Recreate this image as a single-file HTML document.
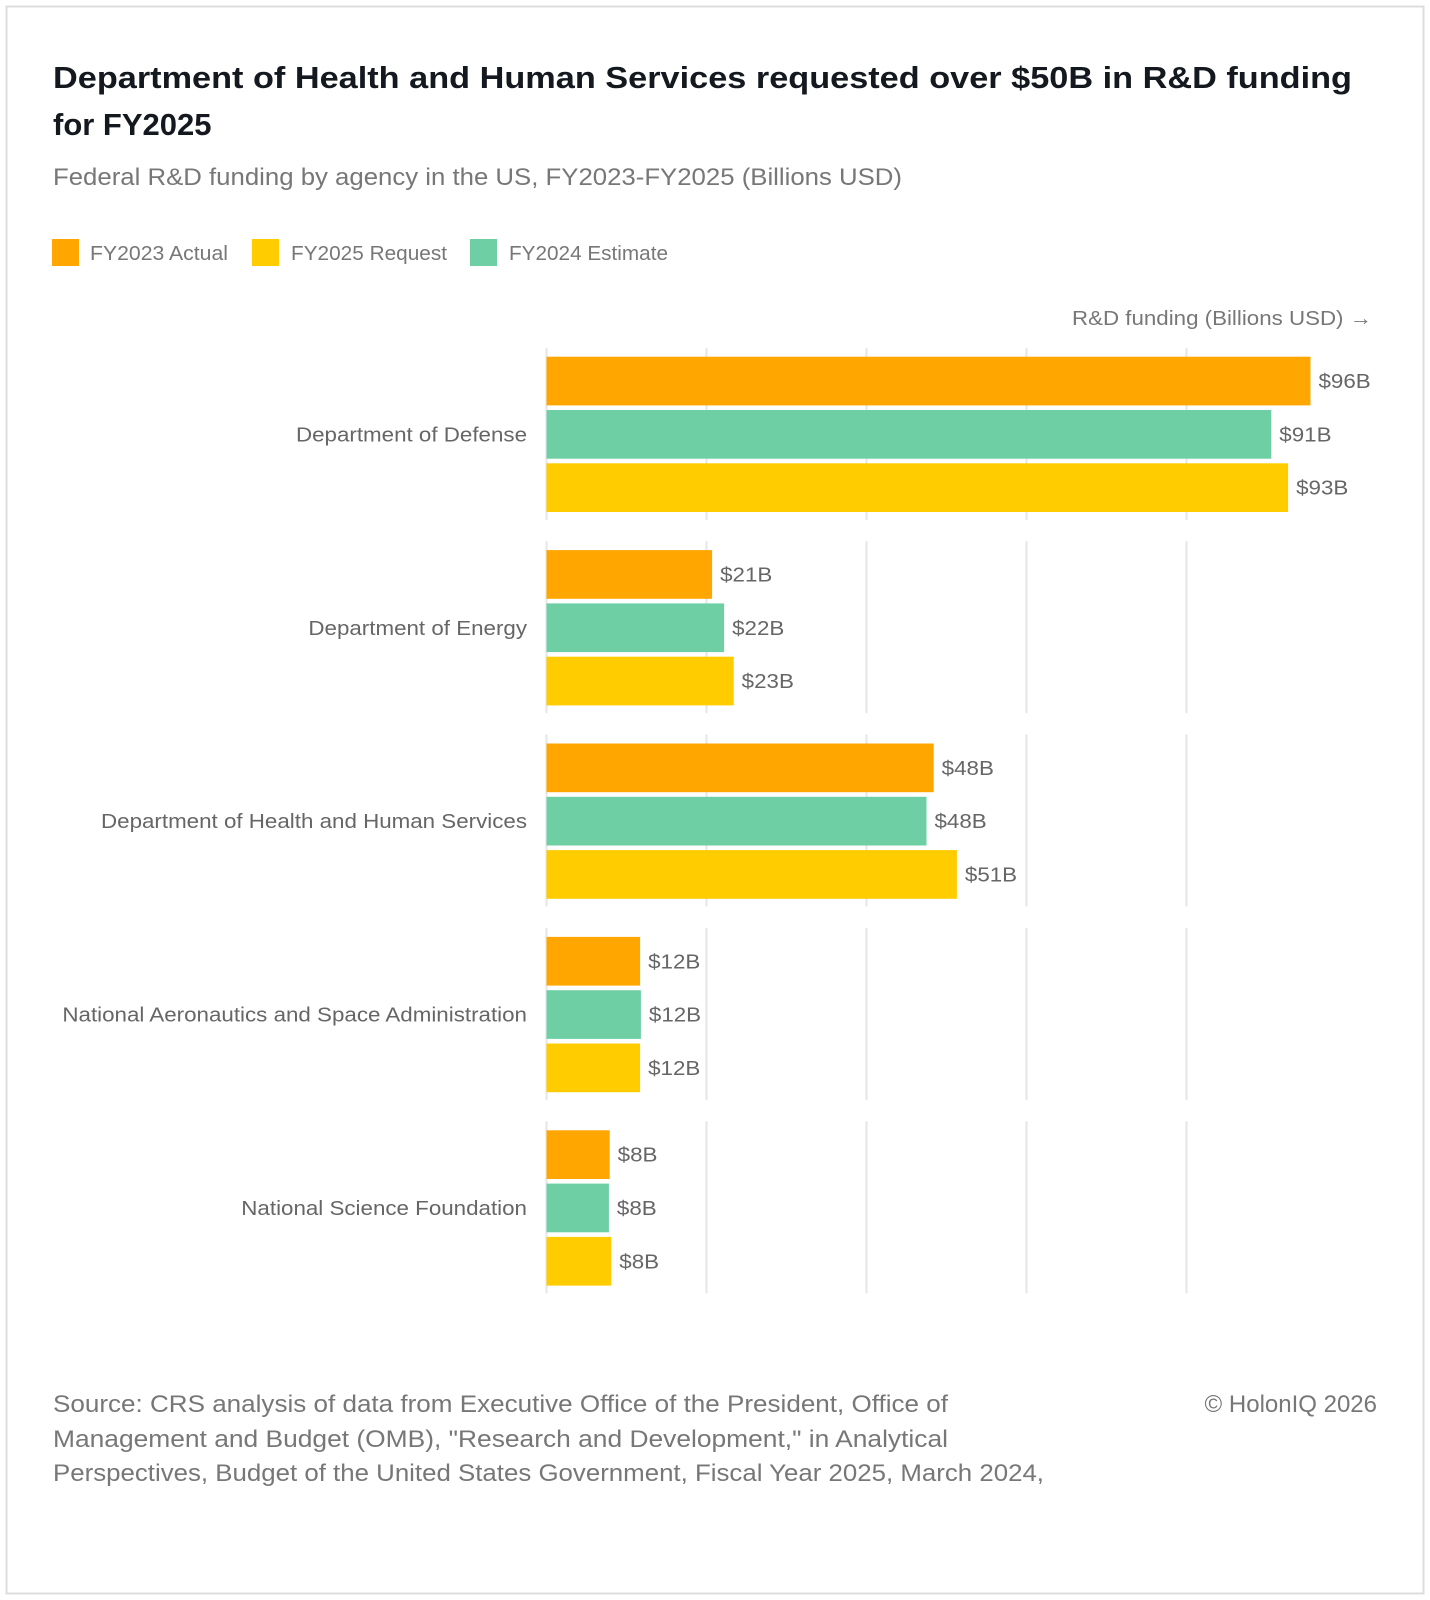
<!DOCTYPE html>
<html><head><meta charset="utf-8"><style>
html,body{margin:0;padding:0;background:#fff}
svg{display:block}
</style></head><body>
<svg id="c" width="1430" height="1600" xmlns="http://www.w3.org/2000/svg">
<rect x="6.5" y="6.5" width="1417" height="1587" fill="#fff" stroke="#ddd" stroke-width="2"/>
<g font-family="'Liberation Sans', sans-serif">
<text x="53" y="88" font-size="31" font-weight="bold" fill="#14181f" textLength="1299" lengthAdjust="spacingAndGlyphs">Department of Health and Human Services requested over $50B in R&amp;D funding</text>
<text x="53" y="135" font-size="31" font-weight="bold" fill="#14181f">for FY2025</text>
<text x="53" y="185" font-size="24" fill="#777" textLength="849" lengthAdjust="spacingAndGlyphs">Federal R&amp;D funding by agency in the US, FY2023-FY2025 (Billions USD)</text>
<g>
<rect x="52" y="239" width="27" height="27" fill="#ffa600"/>
<text x="90" y="260" font-size="20" fill="#777" textLength="138" lengthAdjust="spacingAndGlyphs">FY2023 Actual</text>
<rect x="252" y="239" width="27" height="27" fill="#ffcc00"/>
<text x="291" y="260" font-size="20" fill="#777" textLength="156" lengthAdjust="spacingAndGlyphs">FY2025 Request</text>
<rect x="470" y="239" width="27" height="27" fill="#6ecfa5"/>
<text x="509" y="260" font-size="20" fill="#777" textLength="159" lengthAdjust="spacingAndGlyphs">FY2024 Estimate</text>
</g>
<text x="1372" y="325" font-size="20" fill="#777" text-anchor="end" textLength="300" lengthAdjust="spacingAndGlyphs">R&amp;D funding (Billions USD) →</text>
<g id="plot"></g>
<g font-size="24" fill="#777">
<text x="53" y="1412" textLength="895" lengthAdjust="spacingAndGlyphs">Source: CRS analysis of data from Executive Office of the President, Office of</text>
<text x="53" y="1447" textLength="895" lengthAdjust="spacingAndGlyphs">Management and Budget (OMB), "Research and Development," in Analytical</text>
<text x="53" y="1481" textLength="991" lengthAdjust="spacingAndGlyphs">Perspectives, Budget of the United States Government, Fiscal Year 2025, March 2024,</text>
</g>
<text x="1377" y="1412" font-size="24" fill="#777" text-anchor="end">© HolonIQ 2026</text>
</g>
</svg>
<script>
const categories = ["Department of Defense","Department of Energy","Department of Health and Human Services","National Aeronautics and Space Administration","National Science Foundation"];
const fy2023 = [95.5, 20.7, 48.4, 11.7, 7.9];
const fy2024 = [90.6, 22.2, 47.5, 11.8, 7.8];
const fy2025 = [92.7, 23.4, 51.3, 11.7, 8.1];
const labels2023 = ["$96B","$21B","$48B","$12B","$8B"];
const labels2024 = ["$91B","$22B","$48B","$12B","$8B"];
const labels2025 = ["$93B","$23B","$51B","$12B","$8B"];
const gridTicks = [0, 20, 40, 60, 80];

const NS = "http://www.w3.org/2000/svg";
const plot = document.getElementById("plot");
const x0 = 546.5, pxPer = 8.0;
const x = v => x0 + v * pxPer;
const groupTop = i => 356.7 + 193.4 * i;
const barH = 48.7, barPitch = 53.3;
function mk(tag, attrs){ const e = document.createElementNS(NS, tag); for (const k in attrs) e.setAttribute(k, attrs[k]); return e; }
function stretch(t, f){ const w = t.getComputedTextLength(); t.setAttribute("textLength", (w * f).toFixed(1)); t.setAttribute("lengthAdjust", "spacingAndGlyphs"); }

const series = [
  {vals: fy2023, labs: labels2023, color: "#ffa600", key: "fy2023"},
  {vals: fy2024, labs: labels2024, color: "#6ecfa5", key: "fy2024"},
  {vals: fy2025, labs: labels2025, color: "#ffcc00", key: "fy2025"}
];
categories.forEach((cat, i) => {
  const top = groupTop(i);
  gridTicks.forEach(t => {
    const g = mk("line", {x1: x(t), x2: x(t), y1: top - 9, y2: top + 163, stroke: "#e6e6e6", "stroke-width": 2});
    
    
    plot.appendChild(g);
  });
  const lbl = mk("text", {x: 527, y: top + barPitch + barH / 2 + 7, "text-anchor": "end", "font-size": 20.5, fill: "#666"});
  lbl.textContent = cat;
  
  
  plot.appendChild(lbl);
  stretch(lbl, 1.09);
  series.forEach((s, j) => {
    const y = top + j * barPitch;
    const r = mk("rect", {x: x0, y: y, width: x(s.vals[i]) - x0, height: barH, fill: s.color});
    
    
    plot.appendChild(r);
    const t = mk("text", {x: x(s.vals[i]) + 8, y: y + barH / 2 + 7, "font-size": 20.5, fill: "#666"});
    t.textContent = s.labs[i];
    
    
    plot.appendChild(t);
    stretch(t, 1.09);
  });
});
</script>
</body></html>
